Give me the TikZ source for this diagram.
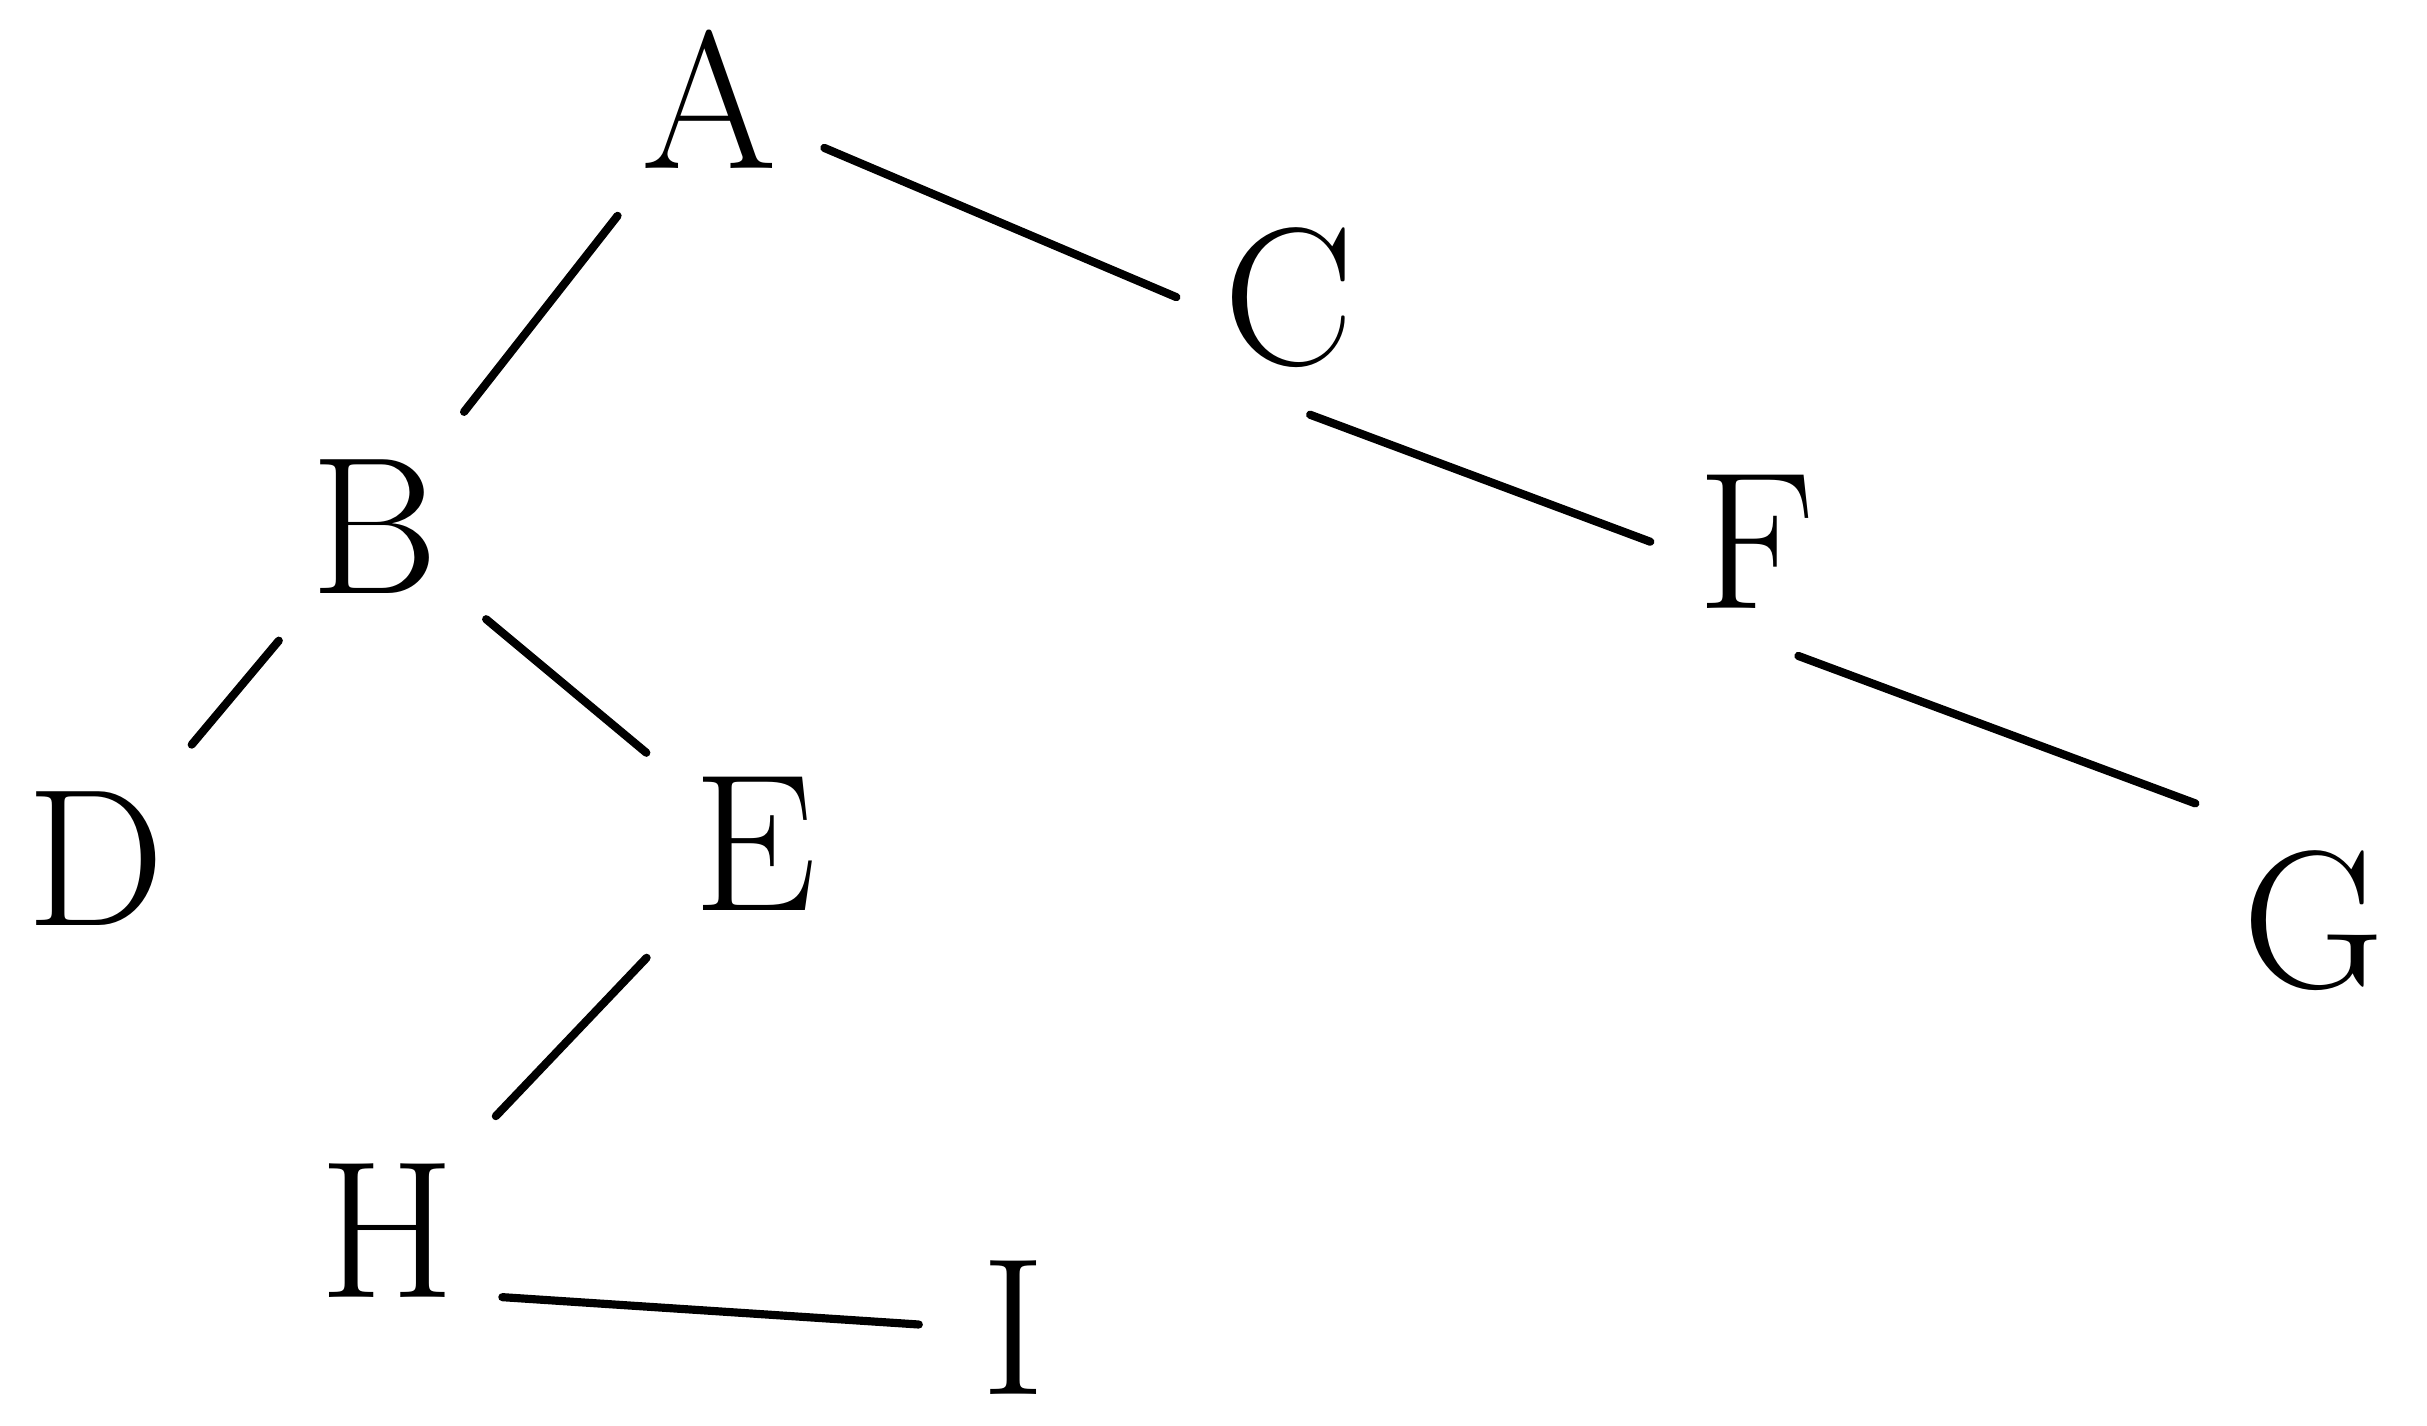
\documentclass[tikz,border=0pt]{standalone}
\begin{document}
\begin{tikzpicture}[x=1cm,y=-1cm,
  lbl/.style={font=\fontsize{36}{40}\selectfont, inner sep=0.3cm},
  edge/.style={line width=1.5pt, line cap=round}]
\useasboundingbox (0,0) rectangle (15.68,9.21);
\node[lbl] (A) at (4.58,0.64) {A};
\node[lbl] (C) at (8.33,1.92) {C};
\node[lbl] (B) at (2.42,3.40) {B};
\node[lbl] (F) at (11.35,3.50) {F};
\node[lbl] (D) at (0.62,5.55) {D};
\node[lbl] (E) at (4.88,5.45) {E};
\node[lbl] (G) at (14.95,5.95) {G};
\node[lbl] (H) at (2.50,7.95) {H};
\node[lbl, inner sep=0.05cm] (I) at (6.55,8.58) {I};
\draw[edge] (A) -- (B);
\draw[edge] (A) -- (C.west);
\draw[edge] (B) -- (D);
\draw[edge] (B) -- (E);
\draw[edge] (C.-80) -- (F.west);
\draw[edge] (F.-70) -- (G.north west);
\draw[edge] (E) -- (H);
\draw[edge, shorten >=0.35cm] (H.-30) -- (I.west);
\end{tikzpicture}
\end{document}
